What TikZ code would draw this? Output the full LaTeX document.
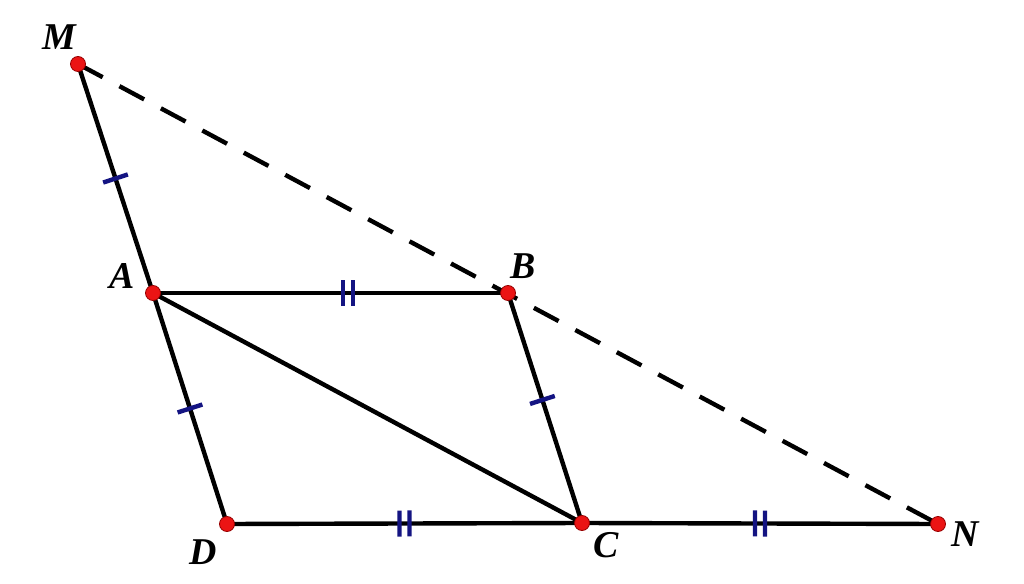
\documentclass[tikz,border=0pt]{standalone}
\usepackage{fontspec}
\setmainfont{Liberation Serif}
\usetikzlibrary{decorations.markings}
\definecolor{tickblue}{RGB}{20,20,130}
\definecolor{dotred}{RGB}{235,20,20}
\definecolor{dotedge}{RGB}{150,0,0}
\tikzset{
  seg/.style={line width=4.4bp, black},
  dashseg/.style={line width=4.4bp, black, dash pattern=on 28bp off 19bp},
  onetick/.style={postaction={decorate}, decoration={markings,
      mark=at position #1 with {\draw[tickblue, line width=4.4bp] (0,-13bp) -- (0,13bp);}}},
  twotick/.style={postaction={decorate}, decoration={markings,
      mark=at position #1 with {\draw[tickblue, line width=4.4bp] (-5bp,-13bp) -- (-5bp,13bp) (5bp,-13bp) -- (5bp,13bp);}}},
  dot/.style={circle, fill=dotred, draw=dotedge, line width=0.8bp, inner sep=0pt, minimum size=15bp},
  lbl/.style={font=\fontsize{38}{38}\selectfont\bfseries\itshape, inner sep=0pt}
}
\begin{document}
\begin{tikzpicture}[x=1bp,y=-1bp]
\useasboundingbox (0,0) rectangle (1024,584);
\coordinate (M) at (78,64);
\coordinate (A) at (153,293);
\coordinate (B) at (508,293);
\coordinate (D) at (227,524);
\coordinate (C) at (582,523);
\coordinate (N) at (938,524);
\draw[dashseg] (M) -- (N);
\draw[seg, onetick=0.5] (M) -- (A);
\draw[seg, onetick=0.5] (A) -- (D);
\draw[seg, onetick=0.465] (B) -- (C);
\draw[seg, twotick=0.55] (A) -- (B);
\draw[seg, twotick=0.5] (D) -- (C);
\draw[seg, twotick=0.5] (C) -- (N);
\draw[seg] (A) -- (C);
\foreach \p in {M,A,B,D,C,N} \node[dot] (dot\p) at (\p) {};
\node[lbl] (lM) at (59,37) {M};
\node[lbl] (lA) at (122,276) {A};
\node[lbl] (lB) at (523,266) {B};
\node[lbl] (lD) at (203,552) {D};
\node[lbl] (lC) at (606,545) {C};
\node[lbl] (lN) at (965,534) {N};
\end{tikzpicture}
\end{document}
